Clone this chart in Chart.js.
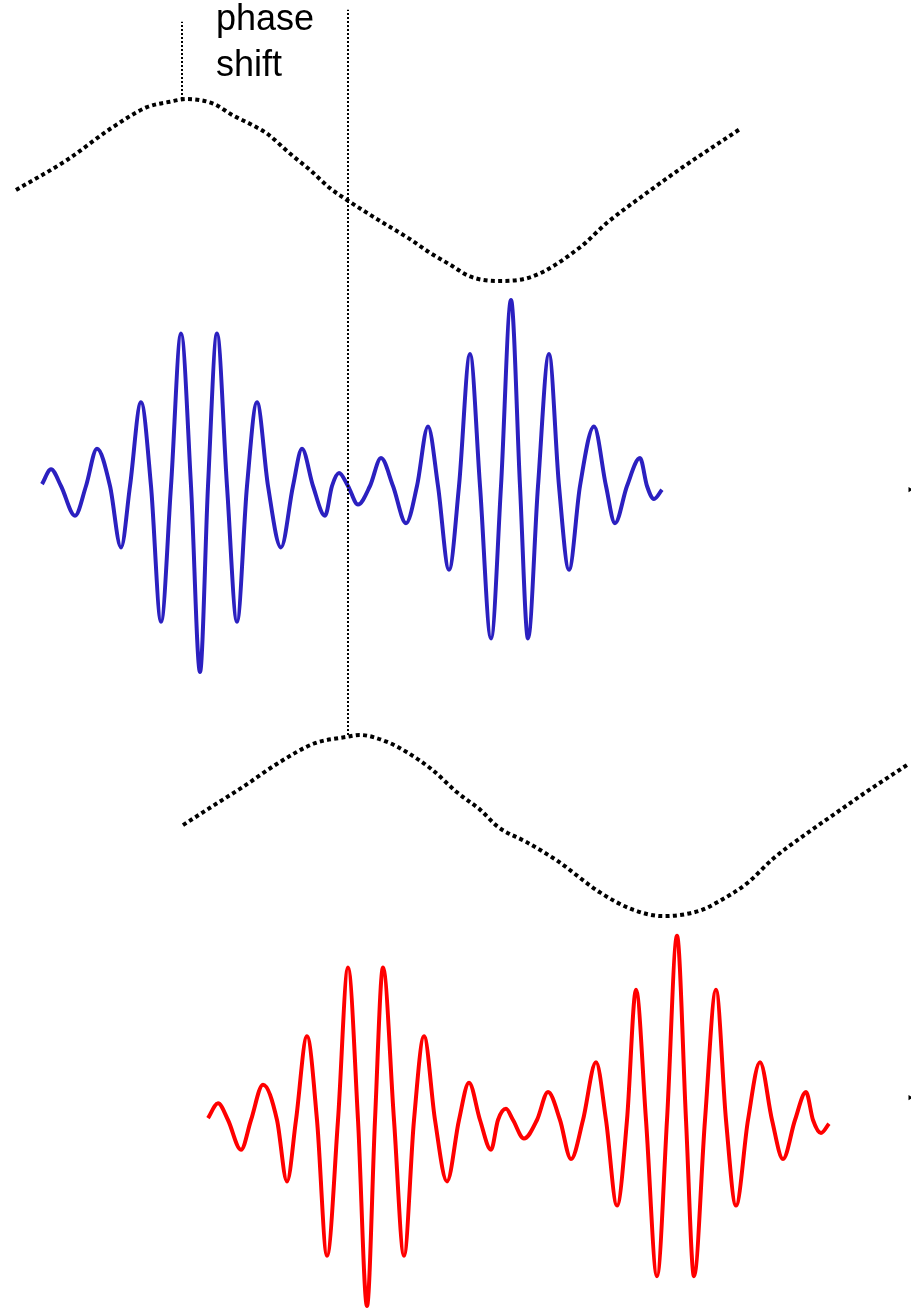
<!DOCTYPE html>
<html>
<head>
<meta charset="utf-8">
<script src="https://cdn.jsdelivr.net/npm/chart.js@4/dist/chart.umd.min.js"></script>
<style>
  html, body { margin: 0; padding: 0; background: #ffffff; }
  #wrap { width: 911px; height: 1316px; position: relative; }
  canvas { display: block; }
</style>
</head>
<body>
<div id="wrap"><canvas id="c" width="911" height="1316"></canvas></div>
<script>
// ---- Data: time (arbitrary units) and amplitude (normalised) ----

// Upper envelope (reference signal)
const envATime = [1.6, 6.7, 11.0, 14.7, 17.0, 18.7, 21.3, 23.3, 25.3, 26.7, 29.0, 31.0, 33.0, 34.7, 38.0, 41.0, 43.0, 45.0, 47.0, 49.7, 53.0, 58.0, 60.7, 64.7, 68.0, 74.0];
const envAAmp  = [0.00, 0.33, 0.67, 0.91, 0.97, 1.00, 0.95, 0.82, 0.71, 0.62, 0.40, 0.22, 0.02, -0.11, -0.34, -0.54, -0.69, -0.82, -0.95, -1.00, -0.96, -0.63, -0.36, -0.03, 0.23, 0.67];

// Reference wave packet (blue)
const waveATime = [4.2, 5.1, 6.1, 7.5, 8.6, 9.7, 11.0, 12.1, 13.0, 14.1, 15.1, 16.1, 17.1, 18.1, 19.1, 20.0, 20.8, 21.7, 22.7, 23.7, 24.7, 25.7, 26.8, 28.1, 29.3, 30.2, 31.3, 32.5, 33.2, 33.9, 34.8, 35.8, 37.0, 38.1, 39.3, 40.6, 41.7, 42.8, 43.8, 44.9, 45.9, 47.0, 48.0, 49.1, 50.1, 51.1, 52.0, 52.8, 53.8, 54.9, 55.9, 56.9, 58.0, 59.4, 60.6, 61.5, 62.7, 64.0, 64.7, 65.4, 66.2];
const waveAAmp  = [0.01, 0.09, 0.00, -0.16, 0.00, 0.20, 0.00, -0.33, 0.00, 0.45, 0.00, -0.73, 0.00, 0.82, 0.00, -1.00, 0.00, 0.82, 0.00, -0.73, 0.00, 0.45, 0.00, -0.33, 0.00, 0.20, 0.00, -0.16, 0.00, 0.07, 0.00, -0.10, 0.00, 0.15, 0.00, -0.20, 0.00, 0.32, 0.00, -0.45, 0.00, 0.71, 0.00, -0.82, 0.00, 1.00, 0.00, -0.82, 0.00, 0.71, 0.00, -0.45, 0.00, 0.32, 0.00, -0.20, 0.00, 0.15, 0.00, -0.07, -0.02];

// Lower envelope (shifted signal)
const envBTime = [18.3, 21.0, 24.3, 27.8, 31.5, 34.7, 36.0, 38.8, 40.7, 43.2, 45.7, 48.0, 49.8, 52.7, 55.7, 60.0, 63.3, 66.3, 70.0, 71.7, 74.7, 77.3, 80.7, 83.3, 86.7, 90.7];
const envBAmp  = [0.01, 0.20, 0.43, 0.69, 0.91, 0.98, 1.00, 0.92, 0.81, 0.62, 0.37, 0.18, -0.01, -0.18, -0.38, -0.73, -0.92, -0.99, -0.93, -0.84, -0.63, -0.36, -0.08, 0.12, 0.38, 0.67];

// Shifted wave packet (red)
const waveBTime = [20.8, 21.8, 22.8, 24.1, 25.1, 26.3, 27.7, 28.7, 29.6, 30.7, 31.7, 32.7, 33.8, 34.8, 35.8, 36.7, 37.5, 38.3, 39.4, 40.4, 41.4, 42.4, 43.5, 44.7, 45.9, 46.9, 48.0, 49.1, 49.8, 50.6, 51.3, 52.4, 53.7, 54.8, 56.0, 57.1, 58.3, 59.6, 60.6, 61.7, 62.7, 63.6, 64.6, 65.7, 66.7, 67.7, 68.6, 69.4, 70.5, 71.6, 72.6, 73.6, 74.8, 76.0, 77.2, 78.3, 79.5, 80.6, 81.3, 82.1, 82.9];
const waveBAmp  = [0.01, 0.09, 0.00, -0.16, 0.00, 0.19, 0.00, -0.33, 0.00, 0.45, 0.00, -0.73, 0.00, 0.82, 0.00, -1.00, 0.00, 0.82, 0.00, -0.73, 0.00, 0.45, 0.00, -0.33, 0.00, 0.20, 0.00, -0.16, 0.00, 0.06, 0.00, -0.10, 0.00, 0.15, 0.00, -0.21, 0.00, 0.31, 0.00, -0.46, 0.00, 0.70, 0.00, -0.84, 0.00, 0.99, 0.00, -0.84, 0.00, 0.70, 0.00, -0.46, 0.00, 0.31, 0.00, -0.21, 0.00, 0.15, 0.00, -0.07, -0.02];

// Vertical guides marking the two envelope maxima
const guideATime = 18.2;   const guideAAmp = [1.00, 1.85];   // on upper envelope axis
const guideBTime = 34.8;   const guideBAmp = [1.00, 8.97];   // on lower envelope axis

// Time-axis arrow tips at the right edge (one per wave band)
const axisTipTime = 91.0;  const axisTipA = -0.02;  const axisTipB = 0.12;

// Annotation text
const labelLines = ['phase', 'shift'];

// ---- Layout ----
const W = 911, H = 1316;
const X_MIN = 0, X_MAX = 91.1;
// baseline pixel row and pixels per amplitude unit for each trace band
const bands = {
  yEnvA:  { base: 190,  scale: 91 },
  yWaveA: { base: 486,  scale: 186 },
  yEnvB:  { base: 826,  scale: 91 },
  yWaveB: { base: 1120, scale: 186 }
};

function pts(t, a) { return t.map((v, i) => ({ x: v, y: a[i] })); }

const scales = {
  x: { type: 'linear', min: X_MIN, max: X_MAX, display: false }
};
for (const [id, b] of Object.entries(bands)) {
  scales[id] = { type: 'linear', display: false, min: -(H - b.base) / b.scale, max: b.base / b.scale };
}

const dotted = { borderColor: '#000000', borderWidth: 4, borderDash: [4, 3.3], borderCapStyle: 'butt', pointRadius: 0, cubicInterpolationMode: 'monotone', fill: false };
const guide  = { borderColor: '#000000', borderWidth: 2, borderDash: [2, 2], borderCapStyle: 'butt', pointRadius: 0, fill: false, tension: 0 };
const solid  = { borderWidth: 4, pointRadius: 0, cubicInterpolationMode: 'monotone', fill: false, borderJoinStyle: 'round' };
const tip    = { showLine: false, pointStyle: 'triangle', rotation: 90, pointRadius: 3, pointBackgroundColor: '#000000', pointBorderWidth: 0, clip: false };

const textPlugin = {
  id: 'phaseLabel',
  afterDraw(chart) {
    const ctx = chart.ctx;
    ctx.save();
    ctx.fillStyle = '#000000';
    ctx.font = '36px "Liberation Sans", Arial, sans-serif';
    ctx.textBaseline = 'alphabetic';
    ctx.fillText(labelLines[0], 216, 30);
    ctx.fillText(labelLines[1], 216, 76);
    ctx.restore();
  }
};

new Chart(document.getElementById('c'), {
  type: 'line',
  data: {
    datasets: [
      Object.assign({ label: 'guide A', yAxisID: 'yEnvA', data: pts([guideATime, guideATime], guideAAmp) }, guide),
      Object.assign({ label: 'guide B', yAxisID: 'yEnvB', data: pts([guideBTime, guideBTime], guideBAmp) }, guide),
      Object.assign({ label: 'envelope A', yAxisID: 'yEnvA', data: pts(envATime, envAAmp) }, dotted),
      Object.assign({ label: 'wave A', yAxisID: 'yWaveA', borderColor: '#2b20c0', data: pts(waveATime, waveAAmp) }, solid),
      Object.assign({ label: 'envelope B', yAxisID: 'yEnvB', data: pts(envBTime, envBAmp) }, dotted),
      Object.assign({ label: 'wave B', yAxisID: 'yWaveB', borderColor: '#ff0000', data: pts(waveBTime, waveBAmp) }, solid),
      Object.assign({ label: 'axis tip A', yAxisID: 'yWaveA', data: [{ x: axisTipTime, y: axisTipA }] }, tip),
      Object.assign({ label: 'axis tip B', yAxisID: 'yWaveB', data: [{ x: axisTipTime, y: axisTipB }] }, tip)
    ]
  },
  options: {
    responsive: false,
    animation: false,
    devicePixelRatio: 1,
    parsing: false,
    layout: { padding: 0, autoPadding: false },
    plugins: { legend: { display: false }, tooltip: { enabled: false }, title: { display: false } },
    scales: scales
  },
  plugins: [textPlugin]
});
</script>
</body>
</html>
